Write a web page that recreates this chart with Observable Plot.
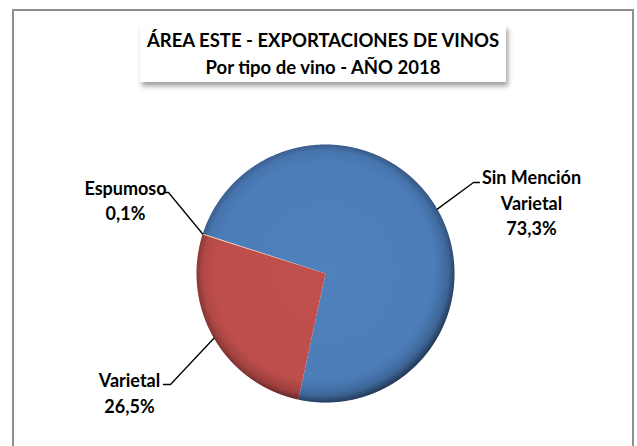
<!DOCTYPE html>
<html>
<head>
<meta charset="utf-8">
<script src="https://cdn.jsdelivr.net/npm/d3@7"></script>
<script src="https://cdn.jsdelivr.net/npm/@observablehq/plot@0.6"></script>
<style>
  html, body { margin: 0; padding: 0; background: #fff; }
  #chart { position: relative; width: 637px; height: 446px; overflow: hidden; background: #fff; font-family: Lato, "Open Sans", sans-serif; }
  #frame { position: absolute; left: 12px; top: 9px; width: 618px; height: 480px; border: 2px solid #8e8e8e; border-bottom: none; }
  #title { position: absolute; left: 140px; top: 25px; width: 366px; height: 57px; background: #fff;
           box-shadow: 2px 4px 5px rgba(0,0,0,0.38); text-align: center; font-weight: bold; font-size: 18.5px;
           line-height: 27px; padding-top: 2px; box-sizing: border-box; color: #000; }
  #plot { position: absolute; left: 0; top: 90px; }
</style>
</head>
<body>
<div id="chart">
  <div id="frame"></div>
  <div id="title"></div>
  <div id="plot"></div>
</div>
<script>
// ---- data ----
const titleLines = ["ÁREA ESTE - EXPORTACIONES DE VINOS", "Por tipo de vino - AÑO 2018"];
const categories = ["Sin Mención Varietal", "Varietal", "Espumoso"];
const shares = [73.3, 26.5, 0.1];

// ---- layout / style ----
const W = 637, H = 356;
const R = 129;                 // pie radius in px
const CX = 325, CY = 183;      // pie centre within the svg
const firstSliceAngle = 288;   // degrees, clockwise from top
const fills = ["url(#gBlue)", "url(#gRed)", "url(#gGreen)"];
// label placement in pixels relative to pie centre (leader elbow, leader end, text block centre)
const labelLayout = [
  {elbow: [148, -91], end: [154, -91], text: [206, -72], lines: ["Sin Mención", "Varietal"]},
  {elbow: [-155, 111], end: [-162, 111], text: [-196, 118.5], lines: ["Varietal"]},
  {elbow: [-157, -81], end: [-162, -81], text: [-200, -74], lines: ["Espumoso"]}
];

document.getElementById("title").innerHTML = titleLines.join("<br>");

const total = d3.sum(shares);
const toRad = Math.PI / 180;
let acc = firstSliceAngle;
const slices = categories.map((cat, i) => {
  const a0 = acc, a1 = acc + shares[i] / total * 360;
  acc = a1;
  return {cat, share: shares[i], a0, a1, mid: (a0 + a1) / 2, i};
});

const polar = (deg, r) => ({x: Math.sin(deg * toRad) * r, y: Math.cos(deg * toRad) * r});

const slicePts = slices.map(s => {
  const pts = [{x: 0, y: 0}];
  const n = Math.max(2, Math.ceil((s.a1 - s.a0) / 0.25));
  for (let k = 0; k <= n; k++) pts.push(polar(s.a0 + (s.a1 - s.a0) * k / n, 1));
  pts.push({x: 0, y: 0});
  return pts;
});

const fmt = v => d3.format(".1f")(v).replace(".", ",") + "%";
const px = p => ({x: p[0] / R, y: -p[1] / R});

const leaders = slices.map((s, i) => {
  const L = labelLayout[i];
  return [Object.assign(polar(s.mid, 1), {k: i}), Object.assign(px(L.elbow), {k: i}), Object.assign(px(L.end), {k: i})];
}).flat();

const labels = slices.map((s, i) => {
  const L = labelLayout[i];
  return Object.assign(px(L.text), {text: [...L.lines, fmt(s.share)].join("\n")});
});

const circlePts = d3.range(0, 361, 0.5).map(a => polar(a, 1));

const plot = Plot.plot({
  width: W, height: H, margin: 0,
  x: {domain: [-CX / R, (W - CX) / R], range: [0, W], axis: null},
  y: {domain: [-(H - CY) / R, CY / R], range: [H, 0], axis: null},
  marks: [
    ...slicePts.map((pts, i) => Plot.line(pts, {x: "x", y: "y", fill: fills[i], stroke: "none", curve: "linear"})),
    Plot.line(circlePts, {x: "x", y: "y", fill: "url(#gShade)", stroke: "none"}),
    Plot.line(leaders, {x: "x", y: "y", z: "k", stroke: "#000", strokeWidth: 1.3}),
    Plot.text(labels, {x: "x", y: "y", text: "text", fontSize: 18, fontWeight: "bold", fill: "#000",
      fontFamily: "Lato, 'Open Sans', sans-serif", lineHeight: 1.42, textAnchor: "middle", lineAnchor: "middle"})
  ]
});

const sx = plot.scale("x"), sy = plot.scale("y");
const cx = sx.apply(0), cy = sy.apply(0), rr = sx.apply(1) - sx.apply(0);
const grad = (id, c0, c1, c2, c3) =>
  `<radialGradient id="${id}" gradientUnits="userSpaceOnUse" cx="${cx}" cy="${cy}" r="${rr}">
     <stop offset="0" stop-color="${c0}"/><stop offset="0.86" stop-color="${c1}"/>
     <stop offset="0.95" stop-color="${c2}"/><stop offset="1" stop-color="${c3}"/></radialGradient>`;
plot.insertAdjacentHTML("afterbegin", `<defs>
  ${grad("gBlue", "#4f81bd", "#4c7db9", "#4674ad", "#3a5e8f")}
  ${grad("gRed", "#c0504d", "#bd4e4b", "#b04845", "#8e3937")}
  ${grad("gGreen", "#f0c0a0", "#f0c0a0", "#e8b090", "#d09070")}
  <radialGradient id="gShade" gradientUnits="userSpaceOnUse" cx="${cx - rr*0.06}" cy="${cy - rr*0.08}" r="${rr*1.1}">
    <stop offset="0" stop-color="#000" stop-opacity="0"/>
    <stop offset="0.82" stop-color="#000" stop-opacity="0"/>
    <stop offset="0.93" stop-color="#000" stop-opacity="0.12"/>
    <stop offset="1" stop-color="#000" stop-opacity="0.4"/>
  </radialGradient>
</defs>`);
document.getElementById("plot").appendChild(plot);
</script>
</body>
</html>
